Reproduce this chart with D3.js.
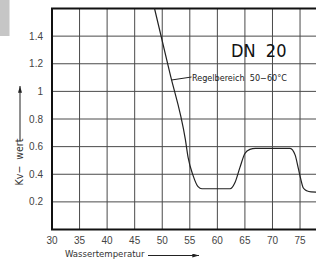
<!DOCTYPE html>
<html>
<head>
<meta charset="utf-8">
<script src="https://cdn.jsdelivr.net/npm/d3@7"></script>
<style>
  body { margin: 0; background: #fff; }
  svg { display: block; }
</style>
</head>
<body>
<div></div>
<script>
// data
const xTicks = [30, 35, 40, 45, 50, 55, 60, 65, 70, 75];
const yTicks = [0.2, 0.4, 0.6, 0.8, 1, 1.2, 1.4];
const temps = [48.6, 51.4, 54.2, 54.7, 55.6, 56.5, 57.2, 62.3, 63.2, 64.1, 65.0, 65.9, 66.9, 73.2, 74.1, 74.7, 75.1, 75.6, 76.2, 77.0, 80];
const kvValues = [1.6, 1.13, 0.65, 0.52, 0.39, 0.31, 0.295, 0.295, 0.34, 0.45, 0.55, 0.58, 0.588, 0.588, 0.54, 0.44, 0.37, 0.30, 0.28, 0.272, 0.27];

const width = 316, height = 261;

const svg = d3.select("body div")
    .append("svg")
    .attr("width", width)
    .attr("height", height);

// grey block in the top left corner
svg.append("rect")
    .attr("x", 0).attr("y", 0)
    .attr("width", 9.5).attr("height", 36)
    .attr("fill", "#c6c6c6");

// scales (plot runs past the right edge of the picture)
const x = d3.scaleLinear().domain([30, 80]).range([52, 327.6]);
const y = d3.scaleLinear().domain([0, 1.6]).range([229.5, 8.5]);

// grid
svg.append("g")
    .selectAll("line")
    .data(xTicks.slice(1))
    .join("line")
    .attr("x1", d => x(d)).attr("x2", d => x(d))
    .attr("y1", y(1.6)).attr("y2", y(0))
    .attr("stroke", "#4a4a4a")
    .attr("stroke-width", 1);

svg.append("g")
    .selectAll("line")
    .data(yTicks)
    .join("line")
    .attr("x1", x(30)).attr("x2", width)
    .attr("y1", d => y(d)).attr("y2", d => y(d))
    .attr("stroke", "#4a4a4a")
    .attr("stroke-width", 1);

// frame: left, top, bottom
svg.append("path")
    .attr("d", `M${width},${y(1.6)}H${x(30)}V${y(0)}H${width}`)
    .attr("fill", "none")
    .attr("stroke", "#111")
    .attr("stroke-width", 2);

// tick labels
svg.append("g")
    .selectAll("text")
    .data(xTicks)
    .join("text")
    .attr("x", d => x(d))
    .attr("y", 244)
    .attr("text-anchor", "middle")
    .style("font-family", "Liberation Sans, Arial, sans-serif")
    .style("font-size", "10px")
    .attr("fill", "#444")
    .text(d => d);

svg.append("g")
    .selectAll("text")
    .data(yTicks)
    .join("text")
    .attr("x", 43)
    .attr("y", d => y(d) + 3.5)
    .attr("text-anchor", "end")
    .style("font-family", "Liberation Sans, Arial, sans-serif")
    .style("font-size", "10px")
    .attr("fill", "#444")
    .text(d => d);

// Kv curve
const line = d3.line()
    .x((d, i) => x(temps[i]))
    .y(d => y(d))
    .curve(d3.curveMonotoneX);

svg.append("path")
    .datum(kvValues)
    .attr("d", line)
    .attr("fill", "none")
    .attr("stroke", "#222")
    .attr("stroke-width", 1.2);

// annotation
svg.append("line")
    .attr("x1", 171.5).attr("y1", 80)
    .attr("x2", 191.5).attr("y2", 77)
    .attr("stroke", "#222")
    .attr("stroke-width", 1);

svg.append("text")
    .attr("x", 192)
    .attr("y", 81)
    .style("font-family", "DejaVu Sans Condensed, sans-serif")
    .style("font-size", "9px")
    .style("white-space", "pre")
    .attr("fill", "#222")
    .text("Regelbereich  50−60°C");

svg.append("text")
    .attr("x", 231)
    .attr("y", 56.5)
    .style("font-family", "DejaVu Sans Condensed, sans-serif")
    .style("font-size", "18px")
    .style("white-space", "pre")
    .attr("fill", "#111")
    .text("DN  20");

// axis titles with arrows
svg.append("defs").append("marker")
    .attr("id", "arr")
    .attr("viewBox", "0 0 10 6")
    .attr("refX", 10).attr("refY", 3)
    .attr("markerWidth", 7).attr("markerHeight", 4)
    .attr("markerUnits", "userSpaceOnUse")
    .attr("orient", "auto")
    .append("path")
    .attr("d", "M0,0L10,3L0,6Z")
    .attr("fill", "#222");

svg.append("text")
    .attr("x", 65)
    .attr("y", 257)
    .style("font-family", "Liberation Sans Narrow, DejaVu Sans Condensed, sans-serif")
    .style("font-size", "9.5px")
    .attr("fill", "#333")
    .text("Wassertemperatur");

svg.append("line")
    .attr("x1", 148).attr("y1", 255.5)
    .attr("x2", 199).attr("y2", 255.5)
    .attr("stroke", "#222")
    .attr("marker-end", "url(#arr)");

svg.append("text")
    .attr("transform", "translate(22.5,162) rotate(-90)")
    .attr("text-anchor", "middle")
    .style("font-family", "Liberation Sans Narrow, DejaVu Sans Condensed, sans-serif")
    .style("font-size", "10.5px")
    .style("white-space", "pre")
    .attr("fill", "#333")
    .text("Kv−  wert");

svg.append("line")
    .attr("x1", 20).attr("y1", 141)
    .attr("x2", 20).attr("y2", 86)
    .attr("stroke", "#222")
    .attr("marker-end", "url(#arr)");
</script>
</body>
</html>
